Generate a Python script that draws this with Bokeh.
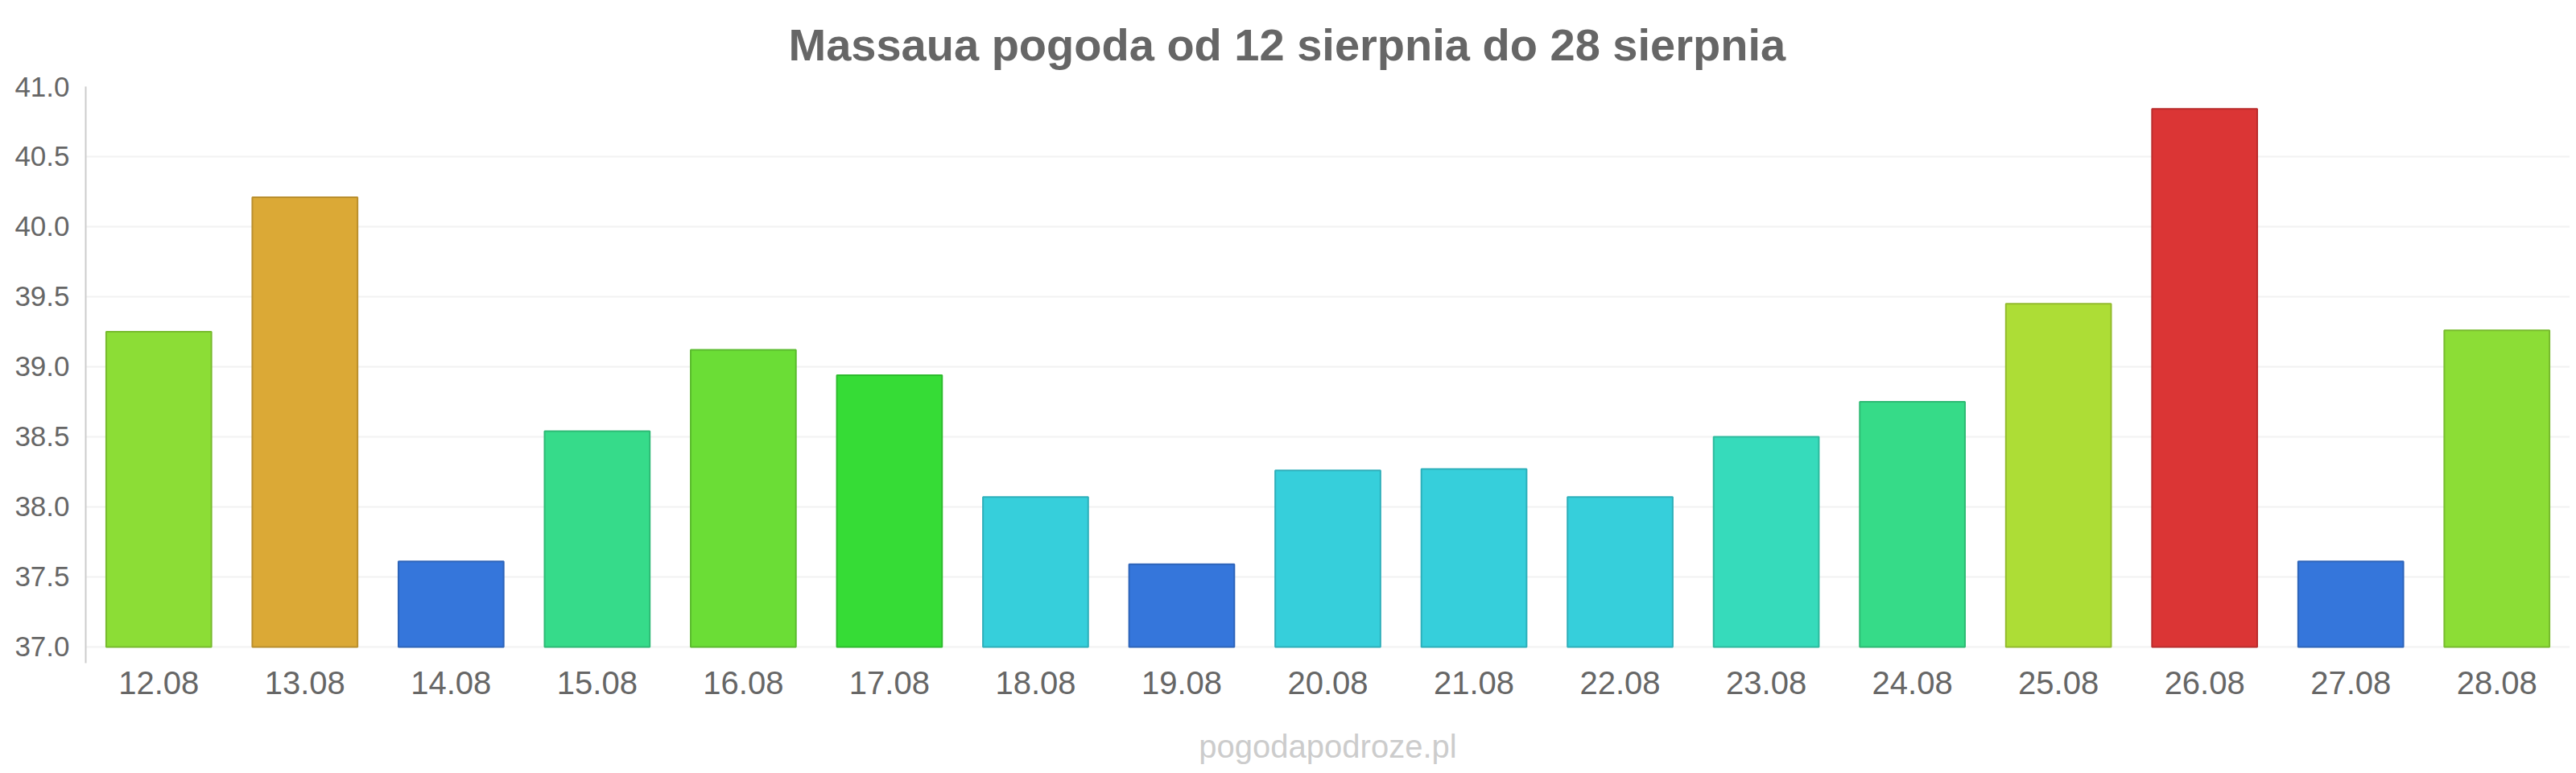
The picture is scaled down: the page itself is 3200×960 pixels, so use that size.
from bokeh.plotting import figure
from bokeh.models import FactorRange, Range1d, FixedTicker, NumeralTickFormatter, Title
from bokeh.embed import file_html
from bokeh.resources import INLINE

days = ["12.08", "13.08", "14.08", "15.08", "16.08", "17.08", "18.08", "19.08", "20.08",
        "21.08", "22.08", "23.08", "24.08", "25.08", "26.08", "27.08", "28.08"]
temps = [39.25, 40.21, 37.61, 38.54, 39.12, 38.94, 38.07, 37.59, 38.26,
         38.27, 38.07, 38.50, 38.75, 39.45, 40.84, 37.61, 39.26]
colors = ["#8cdd36", "#dba936", "#3576db", "#36db8a", "#6bdd36", "#36dc36", "#36cfdb",
          "#3576db", "#36cfdb", "#36cfdb", "#36cfdb", "#36dbbb", "#36db88", "#addd36",
          "#db3535", "#3576db", "#8cdd36"]
y_ticks = [37.0, 37.5, 38.0, 38.5, 39.0, 39.5, 40.0, 40.5, 41.0]

title_text = "Massaua pogoda od 12 sierpnia do 28 sierpnia"
credit_text = "pogodapodroze.pl"
FONT = "Liberation Sans"


def darker(hex_color, f=0.85):
    r, g, b = (int(hex_color[i:i + 2], 16) for i in (1, 3, 5))
    return "#%02x%02x%02x" % (int(r * f), int(g * f), int(b * f))


p = figure(x_range=FactorRange(*days), y_range=Range1d(36.885, 41.0),
           width=3192, height=952, output_backend="svg", toolbar_location=None,
           min_border_left=106, min_border_right=0, min_border_top=107, min_border_bottom=129)
p.outline_line_color = None
p.background_fill_color = "white"

p.vbar(x=days, top=temps, bottom=37.0, width=0.72, fill_color=colors,
       line_color=[darker(c) for c in colors], line_width=2)

# title on top, site name as the x axis label
p.title = Title(text=title_text, align="left", text_font=FONT, text_font_size="56px",
                text_font_style="bold", text_color="#666666", offset=873, standoff=42)

p.xgrid.grid_line_color = None
p.ygrid.grid_line_color = "#f2f2f2"
p.ygrid.grid_line_width = 2

p.yaxis.ticker = FixedTicker(ticks=y_ticks)
p.yaxis.formatter = NumeralTickFormatter(format="0.0")
p.yaxis.axis_line_color = "#cccccc"
p.yaxis.axis_line_width = 2
p.yaxis.major_tick_line_color = None
p.yaxis.minor_tick_line_color = None
p.yaxis.major_tick_out = 0
p.yaxis.major_label_standoff = 20
p.yaxis.major_label_text_font = FONT
p.yaxis.major_label_text_font_size = "35px"
p.yaxis.major_label_text_color = "#666666"

p.xaxis.axis_line_color = None
p.xaxis.major_tick_line_color = None
p.xaxis.major_tick_out = 0
p.xaxis.major_label_standoff = 10
p.xaxis.major_label_text_font = FONT
p.xaxis.major_label_text_font_size = "40px"
p.xaxis.major_label_text_color = "#666666"
p.xaxis.axis_label = credit_text
p.xaxis.axis_label_standoff = 40
p.xaxis.axis_label_text_font = FONT
p.xaxis.axis_label_text_font_size = "40px"
p.xaxis.axis_label_text_font_style = "normal"
p.xaxis.axis_label_text_color = "#cccccc"

open("out.html", "w").write(file_html(p, INLINE))
